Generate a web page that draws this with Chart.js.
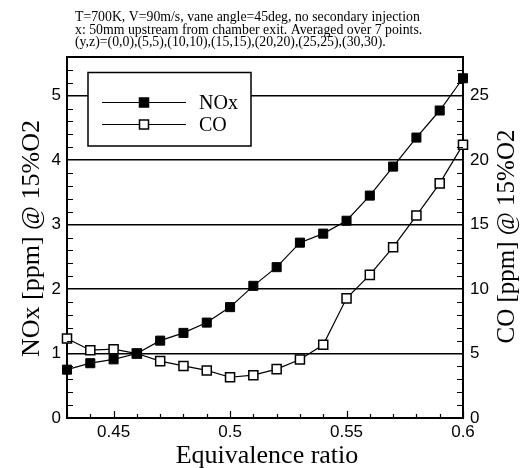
<!DOCTYPE html>
<html>
<head>
<meta charset="utf-8">
<script src="https://cdn.jsdelivr.net/npm/chart.js@4.4.1/dist/chart.umd.min.js"></script>
<style>
html,body{margin:0;padding:0;background:#fff;}
canvas{display:block;}
</style>
</head>
<body>
<canvas id="c" width="520" height="468"></canvas>
<script>
// ---- data ----
const categories = [0.43, 0.44, 0.45, 0.46, 0.47, 0.48, 0.49, 0.50, 0.51, 0.52, 0.53, 0.54, 0.55, 0.56, 0.57, 0.58, 0.59, 0.60];
const noxValues = [0.75, 0.85, 0.91, 1.00, 1.20, 1.32, 1.48, 1.72, 2.05, 2.34, 2.72, 2.86, 3.06, 3.45, 3.90, 4.35, 4.77, 5.27];
const coValues  = [6.17, 5.26, 5.34, 5.00, 4.41, 4.04, 3.69, 3.16, 3.32, 3.79, 4.54, 5.68, 9.28, 11.1, 13.25, 15.7, 18.2, 21.2];
const xTickValues = [0.45, 0.5, 0.55, 0.6];
const xTickLabels = ['0.45', '0.5', '0.55', '0.6'];
const yLeftTicks = [0, 1, 2, 3, 4, 5];
const yRightTicks = [0, 5, 10, 15, 20, 25];
const seriesNames = ['NOx', 'CO'];
const headerLines = [
  'T=700K, V=90m/s, vane angle=45deg, no secondary injection',
  'x: 50mm upstream from chamber exit. Averaged over 7 points.',
  '(y,z)=(0,0),(5,5),(10,10),(15,15),(20,20),(25,25),(30,30).'
];
const xTitle = 'Equivalence ratio';
const yLeftTitle = 'NOx [ppm] @ 15%O2';
const yRightTitle = 'CO [ppm] @ 15%O2';

const SERIF = '"Liberation Serif", "Times New Roman", serif';
const SANS = '"Liberation Sans", Arial, sans-serif';

const noxData = categories.map((x, i) => ({x: x, y: noxValues[i]}));
const coData = categories.map((x, i) => ({x: x, y: coValues[i]}));

const decorPlugin = {
  id: 'decor',
  afterDatasetsDraw(chart) {
    const ctx = chart.ctx;
    const ca = chart.chartArea;
    const xs = chart.scales.x, yl = chart.scales.y, yr = chart.scales.y2;
    ctx.save();
    ctx.strokeStyle = '#000';
    // inward ticks
    ctx.lineWidth = 1.2;
    ctx.beginPath();
    for (let i = 43; i <= 60; i++) {
      const v = i / 100;
      const px = Math.round(xs.getPixelForValue(v)) + 0.5;
      const len = (i % 5 === 0) ? 7 : 4;
      ctx.moveTo(px, ca.bottom);
      ctx.lineTo(px, ca.bottom - len);
    }
    for (let i = 1; i < 28; i++) {
      const v = i / 5;
      if (i % 5 === 0) continue;
      const py = Math.round(yl.getPixelForValue(v)) + 0.5;
      ctx.moveTo(ca.left, py);
      ctx.lineTo(ca.left + 6, py);
    }
    for (let i = 1; i < 28; i++) {
      if (i % 5 === 0) continue;
      const py = Math.round(yr.getPixelForValue(i)) + 0.5;
      ctx.moveTo(ca.right, py);
      ctx.lineTo(ca.right - 6, py);
    }
    ctx.stroke();
    // top frame
    ctx.lineWidth = 2;
    ctx.beginPath();
    ctx.moveTo(ca.left - 1, ca.top);
    ctx.lineTo(ca.right + 1, ca.top);
    ctx.stroke();

    // legend
    const lx = 88, ly = 72.5, lw = 163, lh = 73.5;
    ctx.fillStyle = '#fff';
    ctx.fillRect(lx, ly, lw, lh);
    ctx.lineWidth = 1.5;
    ctx.strokeRect(lx, ly, lw, lh);
    const rows = [102.5, 124.5];
    chart.data.datasets.forEach((ds, i) => {
      const y = rows[i];
      ctx.lineWidth = 1.2;
      ctx.strokeStyle = '#000';
      ctx.beginPath();
      ctx.moveTo(102, y);
      ctx.lineTo(186, y);
      ctx.stroke();
      ctx.fillStyle = ds.pointBackgroundColor;
      ctx.lineWidth = 1.5;
      ctx.fillRect(139.5, y - 4.5, 9, 9);
      ctx.strokeRect(139.5, y - 4.5, 9, 9);
      ctx.fillStyle = '#000';
      ctx.font = '20px ' + SERIF;
      ctx.textAlign = 'left';
      ctx.textBaseline = 'middle';
      ctx.fillText(ds.label, 199, y + 1);
    });

    // header
    ctx.fillStyle = '#000';
    ctx.font = '13.8px ' + SERIF;
    ctx.textAlign = 'left';
    ctx.textBaseline = 'alphabetic';
    headerLines.forEach((t, i) => ctx.fillText(t, 75, 21 + i * 12.7));

    // axis titles
    ctx.font = '26px ' + SERIF;
    ctx.textAlign = 'center';
    ctx.textBaseline = 'alphabetic';
    ctx.fillText(xTitle, 267, 463);
    const cy = (ca.top + ca.bottom) / 2;
    ctx.save();
    ctx.translate(39, cy + 1);
    ctx.rotate(-Math.PI / 2);
    ctx.fillText(yLeftTitle, 0, 0);
    ctx.restore();
    ctx.font = '25px ' + SERIF;
    ctx.save();
    ctx.translate(514, cy - 1);
    ctx.rotate(-Math.PI / 2);
    ctx.fillText(yRightTitle, 0, 0);
    ctx.restore();
    ctx.restore();
  }
};

new Chart(document.getElementById('c'), {
  type: 'line',
  data: {
    datasets: [
      {
        label: seriesNames[0], data: noxData, yAxisID: 'y',
        borderColor: '#000', borderWidth: 1.2, backgroundColor: '#000',
        pointStyle: 'rect', pointRadius: 6.4, pointHoverRadius: 6.4,
        pointBackgroundColor: '#000', pointBorderColor: '#000', pointBorderWidth: 1,
        tension: 0, clip: false
      },
      {
        label: seriesNames[1], data: coData, yAxisID: 'y2',
        borderColor: '#000', borderWidth: 1.2, backgroundColor: '#fff',
        pointStyle: 'rect', pointRadius: 6.4, pointHoverRadius: 6.4,
        pointBackgroundColor: '#fff', pointBorderColor: '#000', pointBorderWidth: 1.5,
        tension: 0, clip: false
      }
    ]
  },
  options: {
    responsive: false,
    animation: false,
    devicePixelRatio: 1,
    layout: { padding: { top: 57, left: 0, right: 0, bottom: 0 } },
    plugins: { legend: { display: false }, tooltip: { enabled: false }, title: { display: false } },
    scales: {
      x: {
        type: 'linear', position: 'bottom', min: 0.43, max: 0.6,
        afterBuildTicks: s => { s.ticks = xTickValues.map(v => ({value: v})); },
        afterFit: s => { s.height = 50; },
        grid: { display: false, drawTicks: false },
        border: { display: true, color: '#000', width: 2 },
        ticks: {
          color: '#000', font: { family: SANS, size: 17 }, padding: 4, maxRotation: 0, autoSkip: false,
          callback: (v, i) => xTickLabels[i]
        }
      },
      y: {
        type: 'linear', position: 'left', min: 0, max: 5.6,
        afterBuildTicks: s => { s.ticks = yLeftTicks.map(v => ({value: v})); },
        afterFit: s => { s.width = 67; },
        grid: { display: true, drawTicks: false, color: '#000', lineWidth: 1.4 },
        border: { display: true, color: '#000', width: 2 },
        ticks: { color: '#000', font: { family: SANS, size: 17 }, padding: 6, callback: v => String(v) }
      },
      y2: {
        type: 'linear', position: 'right', min: 0, max: 28,
        afterBuildTicks: s => { s.ticks = yRightTicks.map(v => ({value: v})); },
        afterFit: s => { s.width = 57; },
        grid: { display: false, drawTicks: false },
        border: { display: true, color: '#000', width: 2 },
        ticks: { color: '#000', font: { family: SANS, size: 17 }, padding: 7, callback: v => String(v) }
      }
    }
  },
  plugins: [decorPlugin]
});
</script>
</body>
</html>
